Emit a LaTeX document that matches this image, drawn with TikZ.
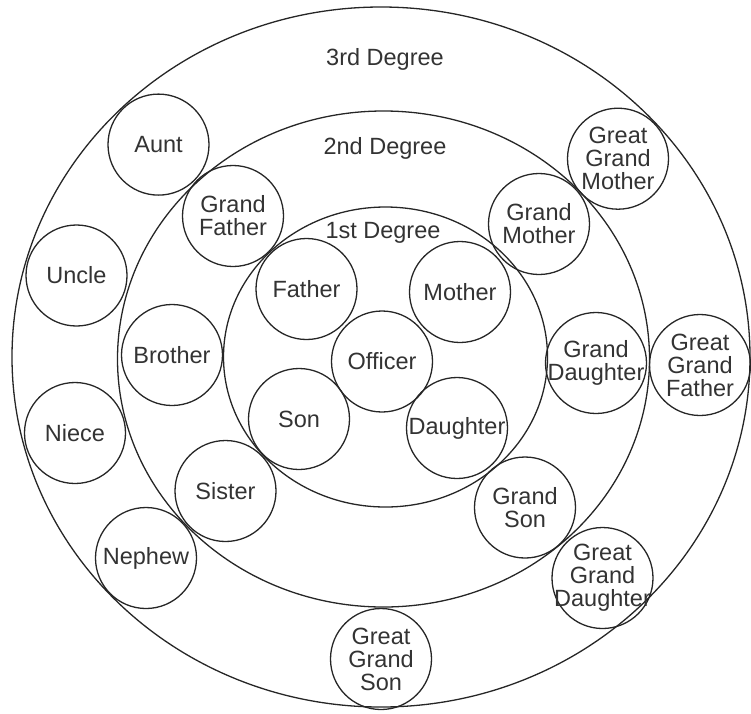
\documentclass[tikz,border=0pt]{standalone}
\usepackage{fontspec}
\setmainfont{Liberation Sans}
\begin{document}
\begin{tikzpicture}[x=1pt,y=-1pt,
  ring/.style={draw=black!85, line width=1.3pt},
  ptext/.style={inner sep=0pt, align=center, font=\fontsize{23.5}{23}\selectfont, text=black!80},
  person/.style={circle, draw=black!85, line width=1.3pt, minimum size=101pt, inner sep=0pt, label={[ptext]center:#1}},
  deg/.style={inner sep=0pt, font=\fontsize{23.5}{23}\selectfont, text=black!80}]
\useasboundingbox (0,0) rectangle (751,713);
\draw[ring] (381,357) ellipse [x radius=369pt, y radius=350pt];
\draw[ring] (383.5,359) ellipse [x radius=266pt, y radius=248pt];
\draw[ring] (385.5,357) ellipse [x radius=162pt, y radius=150pt];
\node[deg] (d3) at (385,59) {3rd Degree};
\node[deg] (d2) at (385,148) {2nd Degree};
\node[deg] (d1) at (383,233) {1st Degree};
\node[person={Officer}] (officer) at (382,361.5) {};
\node[person={Father}] (father) at (306.5,289) {};
\node[person={Mother}] (mother) at (460,292) {};
\node[person={Son}] (son) at (299,419) {};
\node[person={Daughter}] (daughter) at (457,428) {};
\node[person={Grand\\Father}] (gfather) at (233,216) {};
\node[person={Grand\\Mother}] (gmother) at (539,224) {};
\node[person={Brother}] (brother) at (172,355) {};
\node[person={Sister}] (sister) at (225.5,491) {};
\node[person={Grand\\Daughter}] (gdaughter) at (596,363) {};
\node[person={Grand\\Son}] (gson) at (525,507.5) {};
\node[person={Aunt}] (aunt) at (158.5,144.6) {};
\node[person={Uncle}] (uncle) at (76.5,275.5) {};
\node[person={Niece}] (niece) at (75,433) {};
\node[person={Nephew}] (nephew) at (146,558) {};
\node[person={Great\\Grand\\Mother}] (ggmother) at (618,158.7) {};
\node[person={Great\\Grand\\Father}] (ggfather) at (700,365) {};
\node[person={Great\\Grand\\Daughter}] (ggdaughter) at (602.5,578) {};
\node[person={Great\\Grand\\Son}] (ggson) at (381,659) {};
\end{tikzpicture}
\end{document}
